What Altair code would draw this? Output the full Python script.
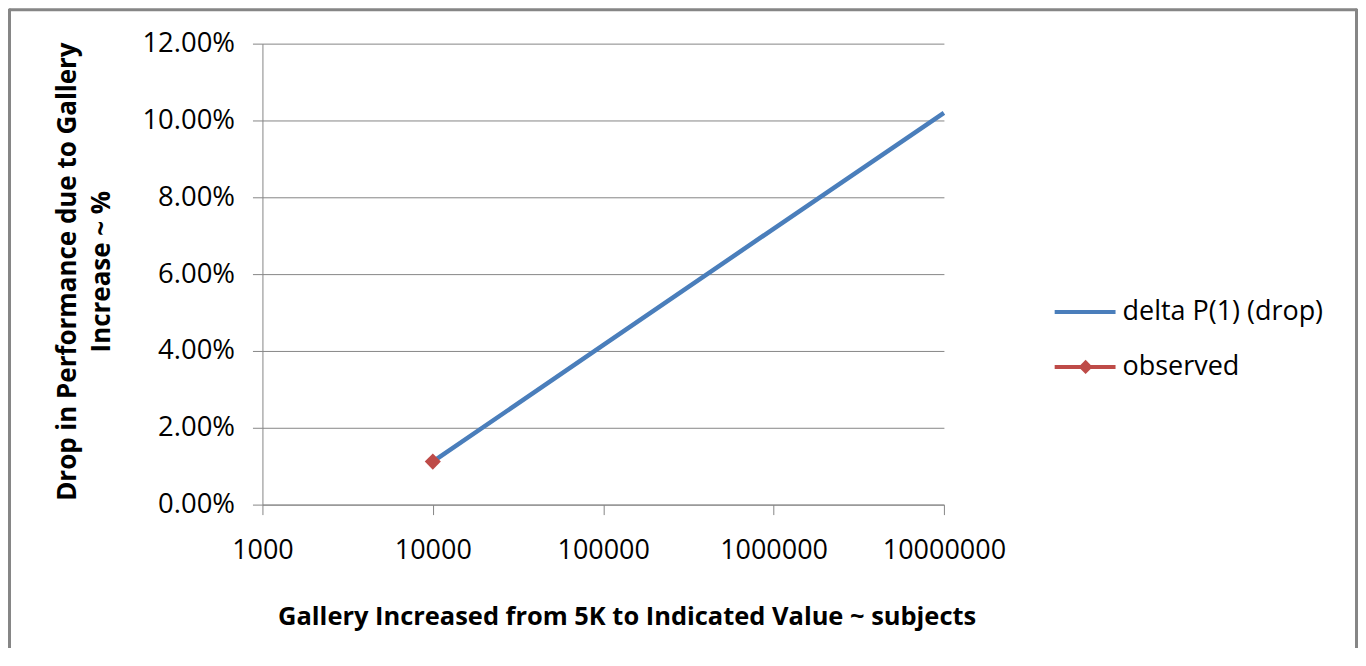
import altair as alt
import pandas as pd

# Data
gallery = [10000, 100000, 1000000, 10000000]
drop = [0.0112, 0.0415, 0.0718, 0.1020]
obs_gallery = [10000]
obs_drop = [0.0112]
x_ticks = [1000, 10000, 100000, 1000000, 10000000]
y_ticks = [0.0, 0.02, 0.04, 0.06, 0.08, 0.10, 0.12]
series_names = ["delta P(1) (drop)", "observed"]

BLUE = "#4A7EBB"
RED = "#BE4B48"
GRAY = "#868686"
FONT = "Open Sans"

line_df = pd.DataFrame({"g": gallery, "d": drop})
obs_df = pd.DataFrame({"g": obs_gallery, "d": obs_drop})

W, H = 683, 462

xscale = alt.Scale(type="log", domain=[1000, 10000000])
yscale = alt.Scale(domain=[0, 0.12])

xaxis = alt.Axis(
    values=x_ticks, format="d", grid=False,
    title="Gallery Increased from 5K to  Indicated Value ~ subjects",
    titleX=365, titleY=112, titleBaseline="middle", titleAlign="center",
    titleFontSize=25.5, titleFontWeight="bold", titleColor="#000000",
    labelFontSize=27, labelColor="#000000", labelPadding=23,
    tickSize=10, tickColor=GRAY, domainColor=GRAY, labelFlush=False,
    labelOverlap=False,
)
yaxis = alt.Axis(
    values=y_ticks, format=".2%", grid=True, gridColor=GRAY, gridWidth=1,
    title=["Drop in Performance due to Gallery", "Increase ~ %"],
    titleX=-208, titleY=228, titleAngle=-90, titleBaseline="top",
    titleAlign="center", titleFontSize=26, titleFontWeight="bold",
    titleColor="#000000", titleLineHeight=34,
    labelFontSize=27.5, labelColor="#000000", labelPadding=18,
    tickSize=10, tickColor=GRAY, domainColor=GRAY,
)

line = alt.Chart(line_df).mark_line(color=BLUE, strokeWidth=4.5).encode(
    x=alt.X("g:Q", scale=xscale, axis=xaxis),
    y=alt.Y("d:Q", scale=yscale, axis=yaxis),
)
obs = alt.Chart(obs_df).mark_point(
    shape="diamond", filled=True, color=RED, size=260, opacity=1
).encode(
    x=alt.X("g:Q", scale=xscale),
    y=alt.Y("d:Q", scale=yscale),
)

# Legend (manual, Excel-style)
leg_y = [269, 324]
leg1 = alt.Chart(pd.DataFrame({"a": [0]})).mark_rule(color=BLUE, strokeWidth=4).encode(
    x=alt.value(794), x2=alt.value(855), y=alt.value(leg_y[0]))
leg2 = alt.Chart(pd.DataFrame({"a": [0]})).mark_rule(color=RED, strokeWidth=4).encode(
    x=alt.value(794), x2=alt.value(855), y=alt.value(leg_y[1]))
leg2p = alt.Chart(pd.DataFrame({"a": [0]})).mark_point(
    shape="diamond", filled=True, color=RED, size=200, opacity=1).encode(
    x=alt.value(825), y=alt.value(leg_y[1]))
legt1 = alt.Chart(pd.DataFrame({"t": [series_names[0]]})).mark_text(
    align="left", baseline="middle", fontSize=27, font=FONT, color="#000000").encode(
    x=alt.value(862), y=alt.value(leg_y[0]), text="t:N")
legt2 = alt.Chart(pd.DataFrame({"t": [series_names[1]]})).mark_text(
    align="left", baseline="middle", fontSize=27, font=FONT, color="#000000").encode(
    x=alt.value(862), y=alt.value(leg_y[1]), text="t:N")

# Chart-area border (top, left, right)
b_top = alt.Chart(pd.DataFrame({"a": [0]})).mark_rule(color=GRAY, strokeWidth=3).encode(
    x=alt.value(-254), x2=alt.value(1097), y=alt.value(-34))
b_left = alt.Chart(pd.DataFrame({"a": [0]})).mark_rule(color=GRAY, strokeWidth=3).encode(
    x=alt.value(-253.5), y=alt.value(-35), y2=alt.value(610))
b_right = alt.Chart(pd.DataFrame({"a": [0]})).mark_rule(color=GRAY, strokeWidth=3).encode(
    x=alt.value(1096.5), y=alt.value(-35), y2=alt.value(610))

chart = alt.layer(
    line, obs, leg1, leg2, leg2p, legt1, legt2, b_top, b_left, b_right
).properties(
    width=W, height=H,
    autosize=alt.AutoSizeParams(type="none"),
    padding={"left": 255, "top": 35, "right": 415, "bottom": 143},
).configure(
    font=FONT,
).configure_view(
    stroke=None,
)

chart.save("out.html", embed_options={"renderer": "svg", "actions": False})
